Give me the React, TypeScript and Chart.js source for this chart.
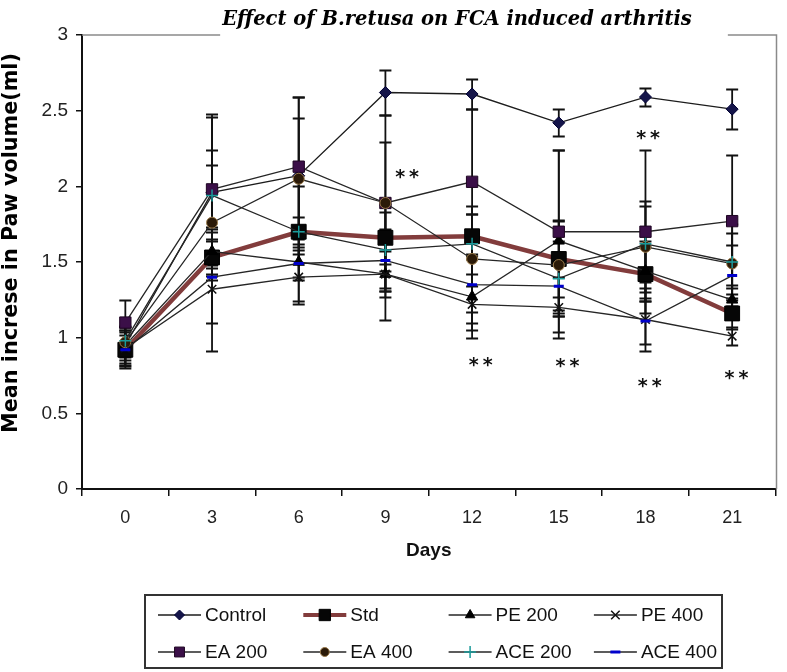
import React, { useEffect, useRef } from 'react';
import { Chart, registerables } from 'chart.js';
import { drawPoint } from 'chart.js/helpers';

Chart.register(...registerables);

// ---------- data ----------
const days = ['0', '3', '6', '9', '12', '15', '18', '21'];
const seriesNames = ['Control', 'Std', 'PE 200', 'PE 400', 'EA 200', 'EA 400', 'ACE 200', 'ACE 400'];

const control = [0.95, 1.96, 2.07, 2.62, 2.61, 2.42, 2.59, 2.51];
const std = [0.92, 1.53, 1.70, 1.66, 1.67, 1.52, 1.42, 1.16];
const pe200 = [0.95, 1.57, 1.50, 1.42, 1.27, 1.64, 1.44, 1.25];
const pe400 = [0.93, 1.32, 1.40, 1.42, 1.22, 1.20, 1.12, 1.01];
const ea200 = [1.10, 1.98, 2.13, 1.89, 2.03, 1.70, 1.70, 1.77];
const ea400 = [0.97, 1.76, 2.05, 1.89, 1.52, 1.48, 1.60, 1.49];
const ace200 = [0.98, 1.94, 1.70, 1.58, 1.62, 1.39, 1.62, 1.50];
const ace400 = [0.92, 1.40, 1.49, 1.51, 1.35, 1.34, 1.11, 1.41];

const controlSd = [0.12, 0.50, 0.52, 0.15, 0.10, 0.09, 0.06, 0.13];
const stdSd = [0.12, 0.12, 0.10, 0.22, 0.15, 0.25, 0.18, 0.10];
const pe200Sd = [0.10, 0.15, 0.12, 0.30, 0.27, 0.60, 0.20, 0.10];
const pe400Sd = [0.12, 0.41, 0.18, 0.15, 0.12, 0.20, 0.21, 0.06];
const ea200Sd = [0.15, 0.50, 0.46, 0.40, 0.48, 0.54, 0.54, 0.44];
const ea400Sd = [0.10, 0.38, 0.40, 0.58, 0.35, 0.30, 0.30, 0.20];
const ace200Sd = [0.10, 0.30, 0.30, 0.25, 0.20, 0.25, 0.25, 0.25];
const ace400Sd = [0.10, 0.30, 0.25, 0.20, 0.30, 0.20, 0.15, 0.20];

const seriesValues = [control, std, pe200, pe400, ea200, ea400, ace200, ace400];
const seriesSd = [controlSd, stdSd, pe200Sd, pe400Sd, ea200Sd, ea400Sd, ace200Sd, ace400Sd];

// significance marks (category position, value)
const starCategory = [3.25, 4.1, 5.1, 6.03, 6.05, 7.05];
const starValues = [2.08, 0.84, 0.83, 2.34, 0.70, 0.75];
const starText = '**';

const chartTitle = 'Effect of B.retusa on FCA induced arthritis';
const yTitle = 'Mean increse in Paw volume(ml)';
const xTitle = 'Days';

// ---------- styles ----------
const SANS = '"Liberation Sans", Arial, sans-serif';
const markerStyles = [
  { pointStyle: 'rectRot', radius: 6, bg: '#15154a', border: '#000033', bw: 1, line: '#1c1c1c', lw: 1.3, legendRadius: 5 },
  { pointStyle: 'rect', radius: 10.5, bg: '#060606', border: '#000000', bw: 1, line: '#823c3c', lw: 4.5, legendRadius: 8 },
  { pointStyle: 'triangle', radius: 6.5, bg: '#000000', border: '#000000', bw: 1, line: '#262626', lw: 1.3, legendRadius: 5.5 },
  { pointStyle: 'crossRot', radius: 6, bg: '#000000', border: '#111111', bw: 1.5, line: '#262626', lw: 1.3, legendRadius: 6 },
  { pointStyle: 'rect', radius: 8, bg: '#3b0f48', border: '#1e0522', bw: 1, line: '#262626', lw: 1.3, legendRadius: 7 },
  { pointStyle: 'circle', radius: 5.5, bg: '#2b1a08', border: '#9a7a4a', bw: 1, line: '#262626', lw: 1.3, legendRadius: 4.5 },
  { pointStyle: 'cross', radius: 6, bg: '#1a9a9a', border: '#1a9a9a', bw: 1.5, line: '#262626', lw: 1.3, legendRadius: 6 },
  { pointStyle: 'line', radius: 5, bg: '#0000cc', border: '#0000cc', bw: 3, line: '#262626', lw: 1.3, legendRadius: 5 },
];

const errorBarPlugin = {
  id: 'errorBars',
  beforeDatasetsDraw(chart: any) {
    const { ctx } = chart;
    const yScale = chart.scales.y;
    ctx.save();
    ctx.strokeStyle = '#111';
    ctx.lineWidth = 1.8;
    chart.data.datasets.forEach((ds: any, i: number) => {
      const meta = chart.getDatasetMeta(i);
      const sd = seriesSd[i];
      meta.data.forEach((pt: any, j: number) => {
        const v = ds.data[j];
        const e = sd[j];
        const top = Math.round(yScale.getPixelForValue(v + e)) + 0.5;
        const bot = Math.round(yScale.getPixelForValue(v - e)) + 0.5;
        const x = pt.x;
        ctx.beginPath();
        ctx.moveTo(x, top);
        ctx.lineTo(x, bot);
        ctx.moveTo(x - 6, top);
        ctx.lineTo(x + 6, top);
        ctx.moveTo(x - 6, bot);
        ctx.lineTo(x + 6, bot);
        ctx.stroke();
      });
    });
    ctx.restore();
  },
};

const decorPlugin = {
  id: 'decor',
  afterDraw(chart: any) {
    const { ctx, chartArea } = chart;
    const xs = chart.scales.x;
    const ys = chart.scales.y;
    ctx.save();

    // title
    const titleFamily = '"DejaVu Serif", "Liberation Serif", serif';
    ctx.font = `italic bold 20px ${titleFamily}`;
    const tw0 = ctx.measureText(chartTitle).width;
    const tSize = (20 * 470) / tw0;
    ctx.font = `italic bold ${tSize}px ${titleFamily}`;
    const tw = ctx.measureText(chartTitle).width;
    const tcx = 457;
    ctx.fillStyle = '#000';
    ctx.textAlign = 'center';
    ctx.textBaseline = 'alphabetic';
    ctx.fillText(chartTitle, tcx, 25);

    // frame (top & right)
    const right = chartArea.right + 1;
    ctx.strokeStyle = '#8a8a8a';
    ctx.lineWidth = 1.5;
    ctx.beginPath();
    ctx.moveTo(chartArea.left, chartArea.top);
    ctx.lineTo(tcx - tw / 2 - 2, chartArea.top);
    ctx.moveTo(tcx + tw / 2 + 36, chartArea.top);
    ctx.lineTo(right, chartArea.top);
    ctx.lineTo(right, chartArea.bottom);
    ctx.stroke();

    // y title
    const yFamily = '"DejaVu Sans", Arial, sans-serif';
    ctx.font = `bold 20px ${yFamily}`;
    const yw0 = ctx.measureText(yTitle).width;
    const ySize = (20 * 380) / yw0;
    ctx.font = `bold ${ySize}px ${yFamily}`;
    ctx.translate(12, 243);
    ctx.rotate(-Math.PI / 2);
    ctx.textAlign = 'center';
    ctx.textBaseline = 'middle';
    ctx.fillStyle = '#000';
    ctx.fillText(yTitle, 0, 0);
    ctx.setTransform(1, 0, 0, 1, 0, 0);

    // significance stars
    ctx.font = `bold 19px "DejaVu Sans", sans-serif`;
    (ctx as any).letterSpacing = '4px';
    ctx.fillStyle = '#111';
    ctx.textAlign = 'center';
    ctx.textBaseline = 'middle';
    starCategory.forEach((c, i) => {
      const x = xs.getPixelForValue(c);
      const y = ys.getPixelForValue(starValues[i]);
      ctx.fillText(starText, x + 2, y + 4);
    });
    (ctx as any).letterSpacing = '0px';

    // legend
    const boxL = 145, boxT = 595, boxR = 722, boxB = 668;
    ctx.strokeStyle = '#333';
    ctx.lineWidth = 2;
    ctx.strokeRect(boxL, boxT, boxR - boxL, boxB - boxT);
    ctx.font = `19px ${SANS}`;
    ctx.textAlign = 'left';
    ctx.textBaseline = 'middle';
    chart.data.datasets.forEach((ds: any, i: number) => {
      const st = markerStyles[i];
      const col = i % 4;
      const row = Math.floor(i / 4);
      const x0 = 158 + col * 145.3;
      const y = 615 + row * 37;
      ctx.strokeStyle = st.line;
      ctx.lineWidth = i === 1 ? 4 : 1.4;
      ctx.beginPath();
      ctx.moveTo(x0, y);
      ctx.lineTo(x0 + 43, y);
      ctx.stroke();
      ctx.fillStyle = st.bg;
      ctx.strokeStyle = st.border;
      ctx.lineWidth = st.bw;
      drawPoint(ctx, { pointStyle: st.pointStyle, rotation: 0, radius: st.legendRadius, borderWidth: st.bw } as any, x0 + 21.5, y);
      ctx.fillStyle = '#111';
      ctx.fillText(ds.label, x0 + 47, y + 1);
    });

    ctx.restore();
  },
};

export default function App() {
  const ref = useRef<HTMLCanvasElement>(null);
  useEffect(() => {
    const canvas = ref.current;
    if (!canvas) return;
    const n = seriesNames.length;
    const datasets = seriesNames.map((name, i) => {
      const st = markerStyles[i];
      return {
        label: name,
        data: seriesValues[i],
        order: n - i,
        borderColor: st.line,
        borderWidth: st.lw,
        backgroundColor: st.bg,
        pointStyle: st.pointStyle,
        pointRadius: st.radius,
        pointBackgroundColor: st.bg,
        pointBorderColor: st.border,
        pointBorderWidth: st.bw,
        fill: false,
        tension: 0,
      };
    });
    const chart = new Chart(canvas, {
      type: 'line',
      data: { labels: days, datasets },
      options: {
        responsive: false,
        animation: false,
        layout: { padding: { left: 0, right: 7, top: 35, bottom: 105.6 } },
        plugins: {
          legend: { display: false },
          title: { display: false },
          tooltip: { enabled: false },
        },
        scales: {
          x: {
            type: 'category',
            offset: true,
            grid: { offset: true, drawOnChartArea: false, drawTicks: true, tickLength: 7, color: '#111', lineWidth: 1.5 },
            border: { display: true, color: '#111', width: 2 },
            ticks: { font: { family: SANS, size: 18 }, color: '#222', padding: 11, maxRotation: 0, autoSkip: false },
            title: { display: true, text: xTitle, font: { family: SANS, size: 19, weight: 'bold' }, color: '#111', padding: { top: 0, bottom: 4 } },
            afterFit: (s: any) => { s.height = 77.4; },
          },
          y: {
            min: 0,
            max: 3,
            ticks: {
              stepSize: 0.5,
              font: { family: SANS, size: 19 },
              color: '#222',
              padding: 8,
              callback: (v: any) => String(Number(v)),
            },
            grid: { drawOnChartArea: false, drawTicks: true, tickLength: 6, color: '#111', lineWidth: 1.5 },
            border: { display: true, color: '#111', width: 2 },
            afterFit: (s: any) => { s.width = 82; },
          },
        },
      } as any,
      plugins: [errorBarPlugin, decorPlugin],
    });
    return () => chart.destroy();
  }, []);
  return (
    <div style={{ position: 'absolute', left: 0, top: 0, width: 787, height: 672, background: '#fff' }}>
      <canvas ref={ref} width={787} height={672} style={{ display: 'block', width: 787, height: 672 }} />
    </div>
  );
}
